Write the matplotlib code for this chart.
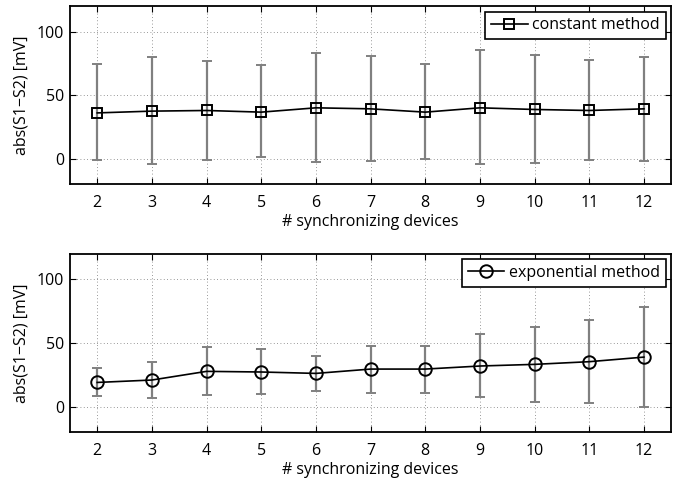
import matplotlib
matplotlib.use("Agg")
import matplotlib.pyplot as plt

plt.rcParams['font.family'] = ['Open Sans', 'DejaVu Sans']

devices = [2, 3, 4, 5, 6, 7, 8, 9, 10, 11, 12]

# constant method: mean, lower end, upper end of error bar
const_mean = [36.0, 37.4, 37.9, 36.6, 40.0, 39.2, 36.6, 40.0, 38.7, 37.9, 39.2]
const_low = [-1.3, -4.2, -0.8, 1.0, -2.4, -2.1, -0.5, -4.2, -3.4, -1.0, -1.9]
const_high = [74.6, 80.0, 76.6, 73.5, 82.9, 80.8, 74.6, 85.3, 81.3, 77.7, 80.0]

# exponential method
exp_mean = [19.0, 20.9, 27.7, 27.2, 26.1, 29.5, 29.5, 31.9, 33.2, 35.3, 38.9]
exp_low = [8.4, 7.1, 8.9, 9.7, 12.3, 10.5, 10.7, 7.3, 3.9, 2.6, -0.5]
exp_high = [30.3, 35.3, 46.5, 44.9, 40.0, 47.8, 47.8, 56.7, 62.2, 68.2, 78.4]

fig = plt.figure(figsize=(6.85, 4.78), dpi=100)
ax1 = fig.add_axes([0.102, 0.615, 0.878, 0.372])
ax2 = fig.add_axes([0.102, 0.096, 0.878, 0.373])

FS = 11.5


def draw(ax, mean, low, high, marker, ms, label):
    yerr = [[m - l for m, l in zip(mean, low)], [h - m for m, h in zip(mean, high)]]
    ax.errorbar(devices, mean, yerr=yerr, fmt='none', ecolor='#808080',
                elinewidth=1.6, capsize=3.8, capthick=1.4, zorder=2)
    ax.plot(devices, mean, color='black', lw=1.2, marker=marker, ms=ms,
            mfc='none', mec='black', mew=1.4, label=label, zorder=3)
    ax.set_xlim(1.5, 12.5)
    ax.set_ylim(-20, 120)
    ax.set_xticks(devices)
    ax.set_yticks([0, 50, 100])
    ax.grid(True, ls=(0, (1, 3)), color='#777777', lw=0.6)
    ax.tick_params(direction='in', top=True, right=True, labelsize=FS, length=4)
    ax.tick_params(axis='x', pad=8)
    ax.tick_params(axis='y', pad=4)
    for s in ax.spines.values():
        s.set_linewidth(1.3)
    ax.set_ylabel('abs(S1\u2212S2) [mV]', fontsize=FS, labelpad=5)
    ax.set_xlabel('# synchronizing devices', fontsize=FS, labelpad=2)
    leg = ax.legend(loc='upper right', fontsize=FS, fancybox=False,
                    framealpha=1, edgecolor='black', borderaxespad=0.35,
                    handlelength=2.3, handletextpad=0.3, borderpad=0.35)
    leg.get_frame().set_linewidth(1.2)


draw(ax1, const_mean, const_low, const_high, 's', 7, 'constant method')
draw(ax2, exp_mean, exp_low, exp_high, 'o', 9, 'exponential method')

fig.savefig('out.png', dpi=100)
